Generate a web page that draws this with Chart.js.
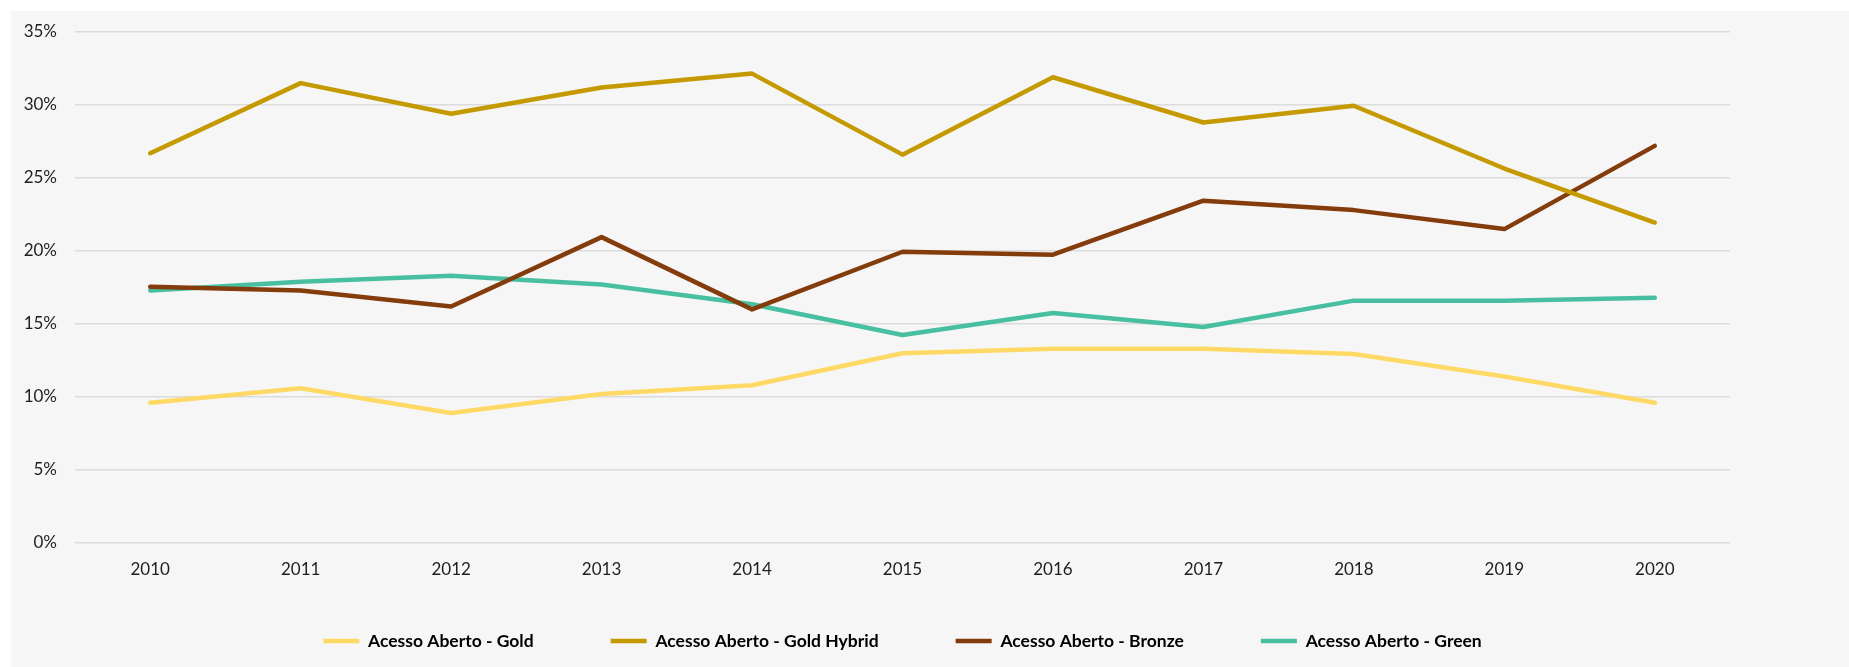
<!DOCTYPE html>
<html>
<head>
<meta charset="utf-8">
<script src="https://cdn.jsdelivr.net/npm/chart.js@4.4.1/dist/chart.umd.min.js"></script>
<style>
  html, body { margin: 0; padding: 0; background: #ffffff; }
  #wrap {
    position: absolute;
    left: 11px;
    top: 11px;
    width: 1838px;
    height: 656px;
    background: #f6f6f6;
  }
</style>
</head>
<body>
<div id="wrap"><canvas id="oaChart"></canvas></div>
<script>
const years = ['2010', '2011', '2012', '2013', '2014', '2015', '2016', '2017', '2018', '2019', '2020'];
const seriesNames = ['Acesso Aberto - Gold', 'Acesso Aberto - Gold Hybrid', 'Acesso Aberto - Bronze', 'Acesso Aberto - Green'];
const goldValues = [9.6, 10.6, 8.9, 10.2, 10.8, 13.0, 13.3, 13.3, 12.95, 11.4, 9.6];
const goldHybridValues = [26.7, 31.5, 29.4, 31.2, 32.15, 26.6, 31.9, 28.8, 29.95, 25.65, 21.95];
const bronzeValues = [17.55, 17.3, 16.2, 20.95, 16.0, 19.95, 19.75, 23.45, 22.8, 21.5, 27.2];
const greenValues = [17.3, 17.9, 18.3, 17.7, 16.35, 14.25, 15.75, 14.8, 16.6, 16.6, 16.8];
const yTicks = [0, 5, 10, 15, 20, 25, 30, 35];

const colors = ['#ffd966', '#c59a00', '#843c0c', '#47bfa0'];
const allValues = [goldValues, goldHybridValues, bronzeValues, greenValues];

const legendPad = 77;
const legendFont = 17.5;

// the legend needs wide gaps between items but must sit close to the axis labels,
// so after layout its box is centred on the plot and pulled up
const legendPlace = {
  id: 'legendPlace',
  afterLayout(chart) {
    const lg = chart.legend;
    const area = chart.chartArea;
    lg.left = area.left;
    lg.right = area.right;
    lg.width = lg.right - lg.left;
    lg.top = 630 - legendPad - legendFont / 2;
    lg.bottom = chart.height;
    lg.height = lg.bottom - lg.top;
  }
};

Chart.defaults.font.family = 'Lato, "Open Sans", sans-serif';
Chart.defaults.font.size = 17;
Chart.defaults.color = '#1e1e1e';

const ctx = document.getElementById('oaChart').getContext('2d');
new Chart(ctx, {
  type: 'line',
  data: {
    labels: years,
    datasets: seriesNames.map((name, i) => ({
      label: name,
      data: allValues[i],
      borderColor: colors[i],
      backgroundColor: colors[i],
      borderWidth: 4.5,
      borderCapStyle: 'round',
      borderJoinStyle: 'round',
      pointRadius: 0,
      pointHoverRadius: 0,
      pointStyle: 'line',
      tension: 0,
      fill: false
    }))
  },
  options: {
    responsive: true,
    maintainAspectRatio: false,
    animation: false,
    layout: {
      padding: { top: 21, right: 119, bottom: 24, left: 0 }
    },
    scales: {
      x: {
        offset: true,
        grid: { display: false, drawTicks: false },
        border: { display: false },
        ticks: { padding: 16, color: '#1e1e1e' },
        afterFit: (scale) => { scale.height = 40; }
      },
      y: {
        min: yTicks[0],
        max: yTicks[yTicks.length - 1],
        grid: { color: '#dcdcdc', lineWidth: 1.5, drawTicks: false },
        border: { display: false },
        ticks: {
          stepSize: 5,
          padding: 18,
          color: '#1e1e1e',
          font: { lineHeight: 0.3 },
          callback: (v) => v + '%'
        },
        afterFit: (scale) => { scale.width = 64; }
      }
    },
    plugins: {
      tooltip: { enabled: false },
      legend: {
        position: 'bottom',
        maxHeight: 60,
        labels: {
          usePointStyle: true,
          pointStyleWidth: 36,
          padding: legendPad,
          color: '#000000',
          font: { weight: 'bold', size: legendFont }
        }
      }
    }
  },
  plugins: [legendPlace]
});
</script>
</body>
</html>
